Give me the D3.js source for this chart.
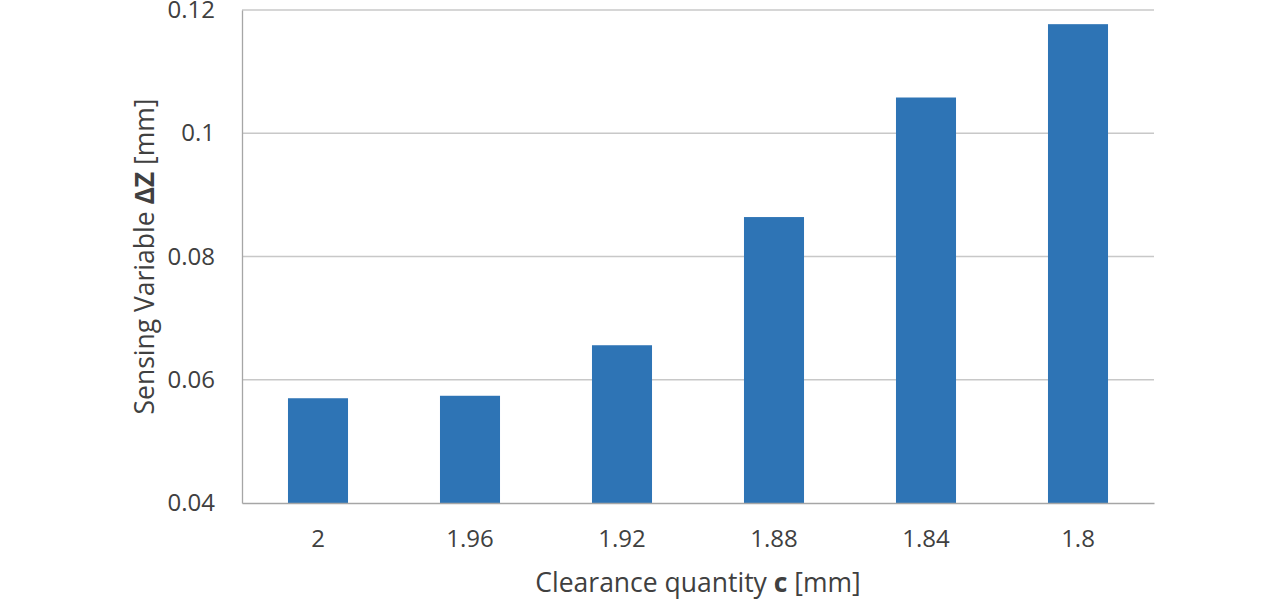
<!DOCTYPE html>
<html>
<head>
<meta charset="utf-8">
<script src="https://cdn.jsdelivr.net/npm/d3@7"></script>
<style>
  body { margin: 0; background: #fff; }
  text { font-family: "Open Sans", "Liberation Sans", sans-serif; }
</style>
</head>
<body>
<div id="main"></div>
<script>
(function(){

  const categories = ['2', '1.96', '1.92', '1.88', '1.84', '1.8']
  const deltaZ = [0.0570, 0.0574, 0.0656, 0.0864, 0.1058, 0.1177]
  const yTicks = [0.04, 0.06, 0.08, 0.1, 0.12]

  const width = 1284
  const height = 602
  const margin = {
      top: 10,
      right: 130,
      bottom: 99,
      left: 242
  }

  const svg = d3.select("#main").append("svg")
    .attr("width", width)
    .attr("height", height)

  const xScale = d3.scaleBand()
    .domain(categories)
    .range([margin.left, width - margin.right])
    .paddingInner(0.605)
    .paddingOuter(0.3025)

  const yScale = d3.scaleLinear()
    .domain([0.04, 0.12])
    .range([height - margin.bottom, margin.top])

  // gridlines
  svg.append("g")
    .selectAll("line")
    .data(yTicks.slice(1))
    .join("line")
      .attr("x1", margin.left)
      .attr("x2", width - margin.right)
      .attr("y1", d => yScale(d))
      .attr("y2", d => yScale(d))
      .attr("stroke", "#c8c8c8")
      .attr("stroke-width", 1.3)

  svg.append("g")
    .selectAll("rect")
    .data(deltaZ)
    .join("rect")
      .attr("x", (d, i) => xScale(categories[i]))
      .attr("width", xScale.bandwidth())
      .attr("y", d => yScale(d))
      .attr("height", d => yScale(0.04) - yScale(d))
      .attr("fill", "#2e74b5")

  const yAxis = d3.axisLeft(yScale)
    .tickValues(yTicks)
    .tickFormat(d => String(+d.toFixed(2)))
    .tickSize(0)
    .tickPadding(27)

  const yg = svg.append("g")
    .attr("transform", `translate(${margin.left},0)`)
    .call(yAxis)
  yg.select(".domain").attr("stroke", "#a6a6a6").attr("stroke-width", 1.3)
  yg.selectAll("text").attr("font-size", 24).attr("fill", "#404040")
    .attr("font-family", "'Open Sans', sans-serif")

  const xAxis = d3.axisBottom(xScale)
    .tickSize(0)
    .tickPadding(27)

  const xg = svg.append("g")
    .attr("transform", `translate(0,${height - margin.bottom})`)
    .call(xAxis)
  xg.select(".domain").attr("stroke", "#a6a6a6").attr("stroke-width", 1.3)
  xg.selectAll("text").attr("font-size", 24).attr("fill", "#404040")
    .attr("font-family", "'Open Sans', sans-serif")

  const xTitle = svg.append("text")
    .attr("x", (margin.left + width - margin.right) / 2)
    .attr("y", 592)
    .attr("text-anchor", "middle")
    .attr("font-size", 26.5)
    .attr("fill", "#404040")
  xTitle.append("tspan").text("Clearance quantity ")
  xTitle.append("tspan").attr("font-weight", "bold").text("c")
  xTitle.append("tspan").text(" [mm]")

  const yTitle = svg.append("text")
    .attr("transform", `translate(154,${(margin.top + height - margin.bottom) / 2}) rotate(-90)`)
    .attr("text-anchor", "middle")
    .attr("font-size", 26.5)
    .attr("fill", "#404040")
  yTitle.append("tspan").text("Sensing Variable ")
  yTitle.append("tspan").attr("font-weight", "bold").text("ΔZ")
  yTitle.append("tspan").text(" [mm]")
}())
</script>
</body>
</html>
